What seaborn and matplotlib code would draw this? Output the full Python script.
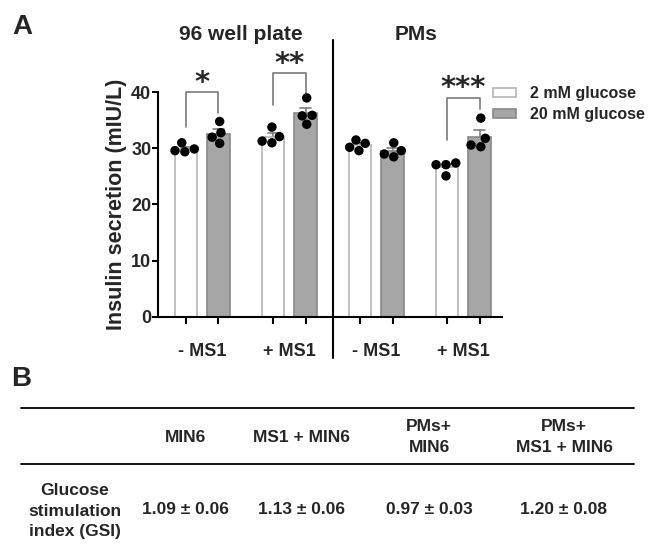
import numpy as np
import pandas as pd
import seaborn as sns
import matplotlib.pyplot as plt
from matplotlib.patches import Patch

# --- data ---
conditions = ['96-', '96+', 'PM-', 'PM+']
cond_labels = ['- MS1', '+ MS1', '- MS1', '+ MS1']
glucose = ['2 mM glucose', '20 mM glucose']

low_glc = [
    [31.0, 29.4, 29.6, 29.9],
    [33.8, 31.0, 32.1, 31.3],
    [31.5, 30.9, 30.2, 29.6],
    [27.4, 27.1, 27.1, 25.1],
]
high_glc = [
    [34.8, 32.8, 30.9, 32.0],
    [39.0, 35.8, 34.3, 35.9],
    [31.0, 29.6, 29.0, 28.5],
    [35.4, 31.8, 30.3, 30.6],
]

# significance brackets: group index, top, left leg end, right leg end, label
brackets = [
    (0, 40.0, 33.9, 36.3, '*'),
    (1, 43.4, 37.7, 39.5, '**'),
    (3, 39.0, 31.5, 37.0, '***'),
]
panel_titles = ['96 well plate', 'PMs']

table_cols = ['MIN6', 'MS1 + MIN6', 'PMs+\nMIN6', 'PMs+\nMS1 + MIN6']
table_row = 'Glucose\nstimulation\nindex (GSI)'
table_vals = ['1.09 ± 0.06', '1.13 ± 0.06', '0.97 ± 0.03', '1.20 ± 0.08']

rows = []
for i, c in enumerate(conditions):
    for v in low_glc[i]:
        rows.append((c, glucose[0], v))
    for v in high_glc[i]:
        rows.append((c, glucose[1], v))
df = pd.DataFrame(rows, columns=['cond', 'glucose', 'insulin'])

sns.set_style('ticks')
plt.rcParams['font.family'] = ['Liberation Sans', 'DejaVu Sans']
plt.rcParams['font.weight'] = 'bold'

fig = plt.figure(figsize=(6.49, 5.48), dpi=100)
W, H = 649, 548
ax = fig.add_axes([158.3 / W, 1 - 316.7 / H, 343.4 / W, 224.4 / H])

bar_colors = ['white', '#a6a6a6']
edge_colors = ['#b4b4b4', '#888888']
width = 0.745

sns.barplot(data=df, x='cond', y='insulin', hue='glucose', order=conditions,
            hue_order=glucose, palette=bar_colors, width=width, gap=0.31,
            errorbar='se', capsize=0.25, linewidth=1.2,
            err_kws={'color': '#808080', 'linewidth': 1.2, 'zorder': 0.5},
            legend=False, ax=ax)
for cont, ec in zip(ax.containers, edge_colors):
    for bar in cont:
        bar.set_edgecolor(ec)

sns.swarmplot(data=df, x='cond', y='insulin', hue='glucose', order=conditions,
              hue_order=glucose, palette=['black', 'black'], dodge=True,
              size=6.8, legend=False, warn_thresh=1, ax=ax)

ax.set_xlim(-0.505, 3.44)
ax.set_ylim(0, 40)
ax.set_yticks([0, 10, 20, 30, 40])
ax.set_xticks(range(len(conditions)))
ax.set_xticklabels(cond_labels, fontsize=13, fontweight='bold')
offs = width / 4
ax.set_xticks([i + s * offs for i in range(len(conditions)) for s in (-1, 1)], minor=True)
ax.tick_params(axis='x', which='major', length=0, pad=19)
ax.tick_params(axis='x', which='minor', length=5, width=1.5, color='black')
ax.tick_params(axis='y', length=4, width=1.5, pad=1, labelsize=13, color='black')
for lab in ax.get_yticklabels():
    lab.set_fontweight('bold')
ax.set_xlabel('')
ax.set_ylabel('Insulin secretion (mIU/L)', fontsize=15.5, fontweight='bold')
ax.yaxis.set_label_coords(-0.09, 0.5)
for s in ['top', 'right']:
    ax.spines[s].set_visible(False)
for s in ['left', 'bottom']:
    ax.spines[s].set_linewidth(1.5)
    ax.spines[s].set_color('black')

# divider between the two panels
ax.plot([1.5, 1.5], [49.3, -7.4], color='black', lw=1.5, clip_on=False)
ax.text(0.446, 50.3, panel_titles[0], ha='center', va='center', fontsize=15, fontweight='bold')
ax.text(2.46, 50.3, panel_titles[1], ha='center', va='center', fontsize=15, fontweight='bold')

for g, top, yl, yr, lab in brackets:
    x0, x1 = g - offs, g + offs
    ax.plot([x0, x0, x1, x1], [yl, top, top, yr], color='#7a7a7a', lw=1.2, clip_on=False)
    ax.text(g, top + 0.3, lab, ha='center', va='baseline', fontsize=21,
            family='DejaVu Sans', fontweight='bold', clip_on=False)

handles = [Patch(facecolor=c, edgecolor=e, linewidth=1.2) for c, e in zip(bar_colors, edge_colors)]
fig.legend(handles, glucose, loc='center left', bbox_to_anchor=(493 / W, 1 - 104 / H),
           frameon=False, handlelength=1.45, handleheight=0.5,
           handletextpad=0.85, labelspacing=0.4, borderpad=0, borderaxespad=0,
           prop={'weight': 'bold', 'size': 11.5})

# overlay axes in pixel coordinates for panel letters and the table
ov = fig.add_axes([0, 0, 1, 1], zorder=-1)
ov.set_xlim(0, W)
ov.set_ylim(H, 0)
ov.axis('off')
ov.text(22, 27, 'A', ha='center', va='center', fontsize=20, fontweight='bold')
ov.text(21, 379, 'B', ha='center', va='center', fontsize=20, fontweight='bold')

ov.plot([21, 634], [407.7, 407.7], color='black', lw=1.3)
ov.plot([21, 634], [464.3, 464.3], color='black', lw=1.3)
col_x = [185, 301, 429, 564]
for x, h, v in zip(col_x, table_cols, table_vals):
    ov.text(x, 437, h, ha='center', va='center', fontsize=12.5, fontweight='bold',
            linespacing=1.45)
    ov.text(x, 510, v, ha='center', va='center', fontsize=12.5, fontweight='bold')
ov.text(75, 511, table_row, ha='center', va='center', fontsize=12.5, fontweight='bold',
        linespacing=1.45)

fig.savefig('out.png', dpi=100)
